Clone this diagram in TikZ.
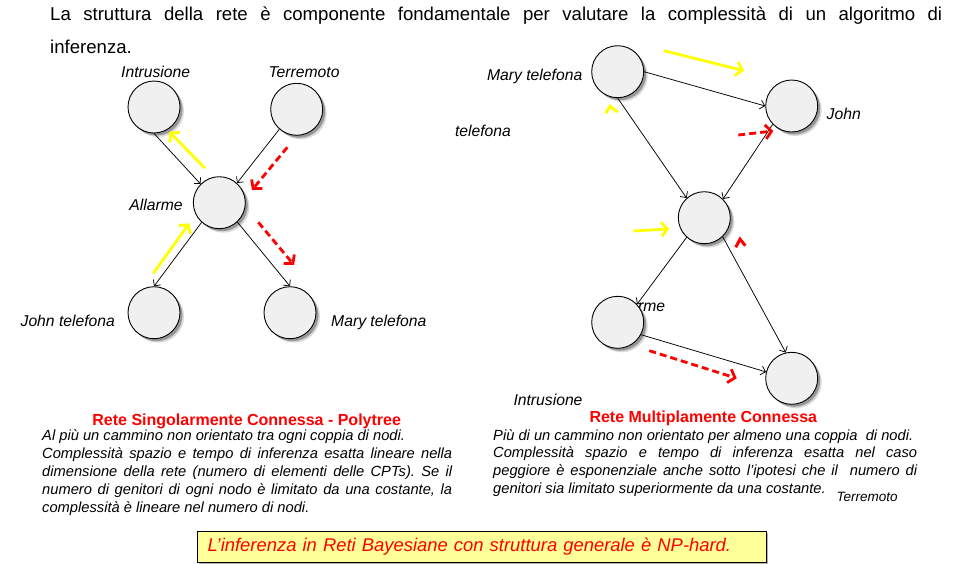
\documentclass[tikz,border=0pt]{standalone}
\usepackage{fontspec}
\setmainfont{Liberation Sans}
\usetikzlibrary{arrows.meta,shadows}
\definecolor{nodegray}{HTML}{F0F0F0}
\definecolor{boxyellow}{HTML}{FFFF99}
\definecolor{hintyellow}{HTML}{FFFF00}
\tolerance=10000
\frenchspacing

\begin{document}
\begin{tikzpicture}[x=1pt,y=-1pt,
  var/.style={circle,draw,line width=0.9pt,fill=nodegray,minimum size=52pt,inner sep=0pt,
    drop shadow={shadow xshift=4pt,shadow yshift=-4pt,fill=black,opacity=.15},
    drop shadow={shadow xshift=2.5pt,shadow yshift=-2.5pt,fill=black,opacity=.3}},
  lbl/.style={font=\fontsize{15.7}{18}\selectfont\itshape,inner sep=0pt},
  link/.style={line width=0.75pt,-{Straight Barb[length=4.5pt,width=9pt]}},
  hint/.style={draw=hintyellow,line width=2.8pt,-{Straight Barb[length=6pt,width=14pt]}},
  flow/.style={draw=red,line width=2.8pt,dash pattern=on 7pt off 4pt,-{Straight Barb[length=6pt,width=14pt]}},
  title/.style={font=\fontsize{16}{19}\selectfont\bfseries,text=red,inner sep=0pt},
  body/.style={font=\fontsize{14.7}{17.9}\selectfont\itshape,inner sep=0pt,align=justify}]
\useasboundingbox (0,0) rectangle (957,563);

% heading
\node[anchor=base west,text width=892pt,align=justify,inner sep=0pt,
  font=\fontsize{18.6}{33.3}\selectfont] (intro) at (50,20)
  {La struttura della rete è componente fondamentale per valutare la complessità di un algoritmo di\linebreak inferenza.};

% polytree
\node[lbl,anchor=base] (lIntLbl) at (155.7,77.3) {Intrusione};
\node[lbl,anchor=base] (lTerLbl) at (304,77.3) {Terremoto};
\node[lbl,anchor=base] (lAllLbl) at (156,210) {Allarme};
\node[lbl,anchor=base] (lJohnLbl) at (67.8,326.7) {John telefona};
\node[lbl,anchor=base] (lMaryLbl) at (378.8,326.7) {Mary telefona};

\node[var] (lInt) at (154,107) {};
\node[var] (lTer) at (296.7,109.3) {};
\node[var] (lAll) at (219.3,202.7) {};
\node[var] (lJohn) at (154,312.7) {};
\node[var] (lMary) at (290,312.7) {};

\draw[link] (lInt.south) -- (lAll.135);
\draw[link] (lTer.-131) -- (lAll.48);
\draw[link] (lAll.-132) -- (lJohn.north);
\draw[link] (lAll.-47) -- (lMary.north);

\coordinate (ly1a) at (205,168.3); \coordinate (ly1b) at (169.3,131.7);
\coordinate (ly2a) at (153.3,273.3); \coordinate (ly2b) at (189.3,223.3);
\coordinate (lr1a) at (287.3,147.3); \coordinate (lr1b) at (252,190);
\coordinate (lr2a) at (258.3,222.3); \coordinate (lr2b) at (294,265);
\draw[hint] (ly1a) -- (ly1b);
\draw[hint] (ly2a) -- (ly2b);
\draw[flow] (lr1a) -- (lr1b);
\draw[flow] (lr2a) -- (lr2b);

% multiply connected
\node[lbl,anchor=base] (rMaryLbl) at (534.7,80) {Mary telefona};
\node[lbl,anchor=base] (rJohnLbl) at (843.7,119) {John};
\node[lbl,anchor=base] (rTelLbl) at (483,136.7) {telefona};
\node[lbl,anchor=base east] (rAllLbl) at (665.3,311) {Allarme};
\node[lbl,anchor=base] (rIntLbl) at (548,405) {Intrusione};
\node[lbl,anchor=base,font=\fontsize{13.5}{16}\selectfont\itshape] (rTerLbl) at (867,501.7) {Terremoto};

\node[var] (rMary) at (617.7,71.7) {};
\node[var] (rJohn) at (791.7,106) {};
\node[var] (rAll) at (704.3,217.7) {};
\node[var] (rInt) at (617.7,322.3) {};
\node[var] (rTer) at (791.7,378.3) {};

\draw[link] (rMary.east) -- (rJohn.west);
\draw[link] (rMary.south) -- (rAll.132);
\draw[link] (rJohn.-136) -- (rAll.45);
\draw[link] (rAll.-132) -- (rInt.43);
\draw[link] (rAll.-46) -- (rTer.103);
\draw[link] (rInt.-28) -- (rTer.166);

\coordinate (ry1a) at (664,50.7); \coordinate (ry1b) at (744,70.7);
\coordinate (ry2a) at (633.3,231); \coordinate (ry2b) at (669.3,229);
\coordinate (rr1a) at (738.3,135); \coordinate (rr1b) at (773.3,131);
\coordinate (rr2a) at (649.3,350.7); \coordinate (rr2b) at (736.7,378.3);
\draw[hint] (ry1a) -- (ry1b);
\draw[hint] (ry2a) -- (ry2b);
\draw[flow] (rr1a) -- (rr1b);
\draw[flow] (rr2a) -- (rr2b);
\draw[hintyellow,line width=3pt] (605.7,113.3) -- (610,106.2) -- (617.7,112.2);
\draw[red,line width=3pt] (735.7,247.3) -- (740,239.2) -- (745.3,245.7);

% captions
\node[title,anchor=base] (leftTitle) at (246.7,425) {Rete Singolarmente Connessa - Polytree};
\node[title,anchor=base] (rightTitle) at (703.3,422.7) {Rete Multiplamente Connessa};

\node[body,anchor=base west,text width=410pt] (leftBody) at (42,440.7)
  {Al più un cammino non orientato tra ogni coppia di nodi.\\
   Complessità spazio e tempo di inferenza esatta lineare nella\linebreak
   dimensione della rete (numero di elementi delle CPTs). Se il\linebreak
   numero di genitori di ogni nodo è limitato da una costante, la\linebreak
   complessità è lineare nel numero di nodi.};
\node[body,anchor=base west,text width=424pt] (rightBody) at (493,440)
  {Più di un cammino non orientato per almeno una coppia\ \ di nodi.\\
   Complessità spazio e tempo di inferenza esatta nel caso\linebreak
   peggiore è esponenziale anche sotto l’ipotesi che il\ \ numero di\linebreak
   genitori sia limitato superiormente da una costante.};

% conclusion
\node[draw=black,line width=1pt,fill=boxyellow,anchor=north west,
  minimum width=569pt,minimum height=31pt,inner xsep=10pt,inner ysep=0pt,
  text width=549pt,align=left,text=red,
  drop shadow={shadow xshift=1.5pt,shadow yshift=-1.5pt,fill=gray,opacity=.6},
  font=\fontsize{18.4}{21}\selectfont\itshape] (hard) at (197,531)
  {L’inferenza in Reti Bayesiane con struttura generale è NP-hard.};
\end{tikzpicture}
\end{document}
